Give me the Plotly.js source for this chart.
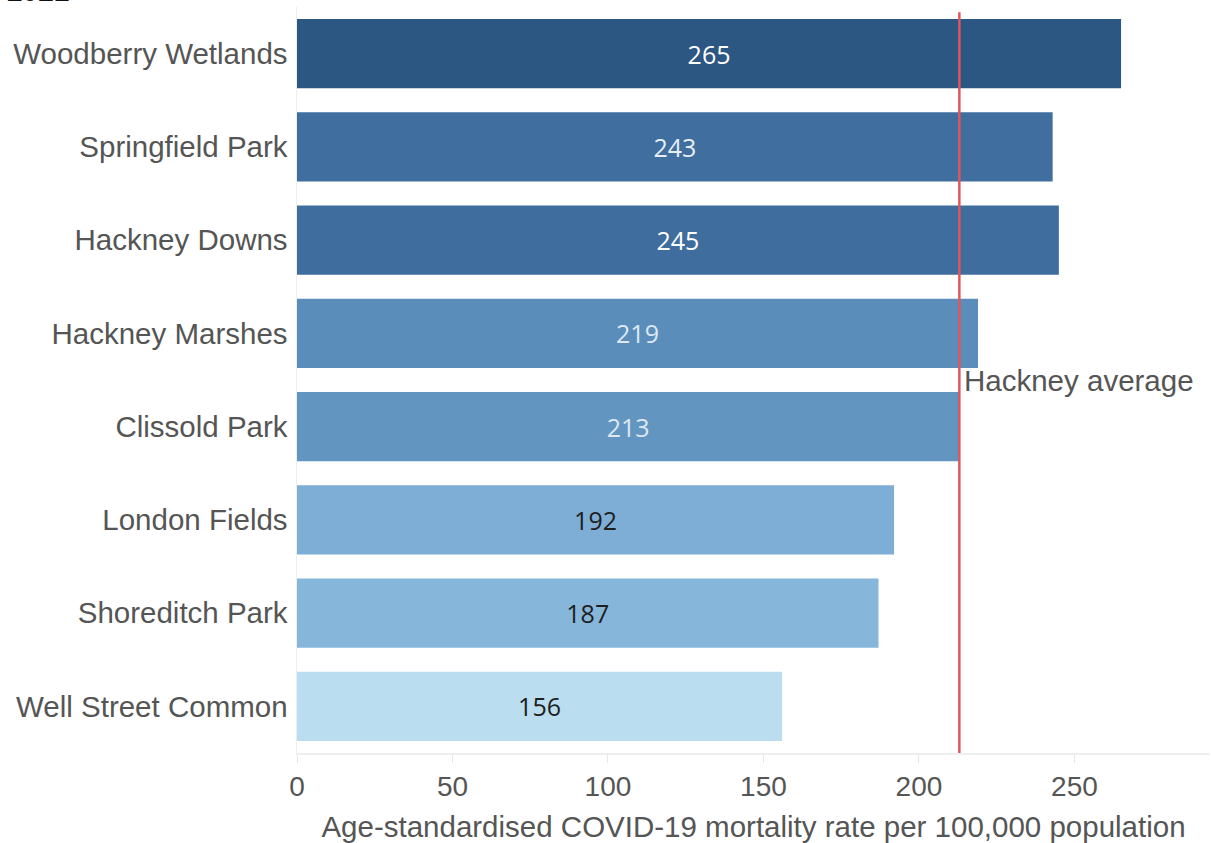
<!DOCTYPE html>
<html>
<head>
<meta charset="utf-8">
<script src="https://cdn.plot.ly/plotly-3.0.1.min.js"></script>
<style>
html, body { margin: 0; padding: 0; background: #fff; }
#chart { width: 1211px; height: 843px; }
</style>
</head>
<body>
<div id="chart"></div>
<script>
const categories = ["Woodberry Wetlands", "Springfield Park", "Hackney Downs", "Hackney Marshes",
  "Clissold Park", "London Fields", "Shoreditch Park", "Well Street Common"];
const values = [265, 243, 245, 219, 213, 192, 187, 156];
const hackneyAverage = 213;
const averageLabel = "Hackney average";
const xTickVals = [0, 50, 100, 150, 200, 250];
const xTitle = "Age-standardised COVID-19 mortality rate per 100,000 population";
const topTitle = "2021";

const barColors = ["#2C5783", "#3F6E9F", "#3F6E9E", "#5B8DBB", "#6395C1", "#7EAED5", "#87B6DB", "#BADDF0"];
const textColors = ["#ffffff", "#e6eef6", "#ffffff", "#dde8f2", "#dde8f2", "#1e1e1e", "#1e1e1e", "#1e1e1e"];

const sansFont = "'Liberation Sans', Arial, Helvetica, sans-serif";

const trace = {
  type: "bar",
  orientation: "h",
  y: categories,
  x: values,
  text: values.map(String),
  textposition: "inside",
  insidetextanchor: "middle",
  textangle: 0,
  constraintext: "none",
  textfont: { family: "'Open Sans', 'DejaVu Sans', sans-serif", size: 25, color: textColors },
  marker: { color: barColors, line: { width: 0 } },
  hoverinfo: "none"
};

const layout = {
  width: 1211,
  height: 843,
  margin: { l: 297, r: 1, t: 7, b: 90 },
  paper_bgcolor: "#ffffff",
  plot_bgcolor: "#ffffff",
  bargap: 0.26,
  showlegend: false,
  font: { family: sansFont, color: "#555555" },
  xaxis: {
    range: [0, 293.6],
    tickvals: xTickVals,
    ticktext: xTickVals.map(String),
    showgrid: false,
    zeroline: false,
    showline: true,
    linecolor: "#eeeeee",
    linewidth: 1.5,
    ticks: "outside",
    ticklen: 8,
    tickcolor: "#e6e6e6",
    tickfont: { family: sansFont, size: 28, color: "#555555" },
    title: { text: xTitle, font: { family: sansFont, size: 29.5, color: "#555555" }, standoff: 19 },
    fixedrange: true
  },
  yaxis: {
    categoryorder: "array",
    categoryarray: categories,
    autorange: "reversed",
    showgrid: false,
    zeroline: false,
    showline: true,
    linecolor: "#eeeeee",
    linewidth: 1.5,
    ticks: "",
    ticklabelstandoff: 2,
    tickfont: { family: sansFont, size: 29.5, color: "#555555" },
    fixedrange: true
  },
  shapes: [{
    type: "line",
    xref: "x", yref: "paper",
    x0: hackneyAverage, x1: hackneyAverage,
    y0: 0, y1: 0.993,
    line: { color: "#E0565C", width: 2.5 }
  }],
  annotations: [{
    xref: "x", yref: "paper",
    x: hackneyAverage, y: 0.4987,
    xanchor: "left", yanchor: "middle",
    xshift: 3,
    text: averageLabel,
    showarrow: false,
    font: { family: sansFont, size: 29.5, color: "#555555" }
  }, {
    xref: "paper", yref: "paper",
    x: -0.32, y: 1,
    xanchor: "left", yanchor: "bottom",
    yshift: -2,
    text: "<b>" + topTitle + "</b>",
    showarrow: false,
    font: { family: sansFont, size: 28, color: "#111111" }
  }]
};

Plotly.newPlot("chart", [trace], layout, { displayModeBar: false, staticPlot: true });
</script>
</body>
</html>
